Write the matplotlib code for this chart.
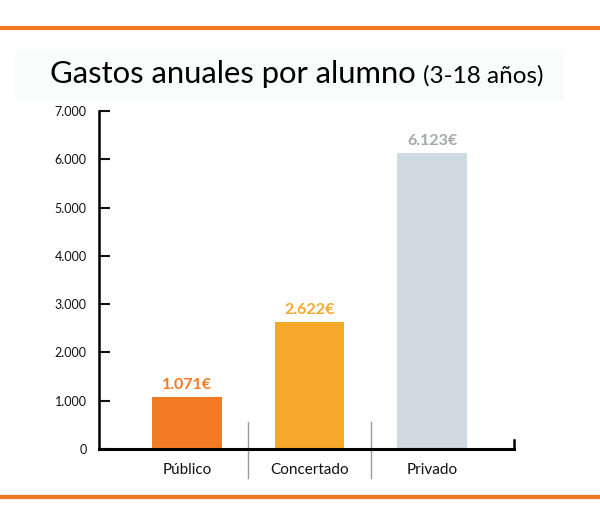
import matplotlib
matplotlib.use("Agg")
import matplotlib.pyplot as plt
from matplotlib.patches import Rectangle
from matplotlib.lines import Line2D

# data
categorias = ["Público", "Concertado", "Privado"]
gastos = [1071, 2622, 6123]
etiquetas = ["1.071€", "2.622€", "6.123€"]
yticks = [0, 1000, 2000, 3000, 4000, 5000, 6000, 7000]
ytick_labels = ["0", "1.000", "2.000", "3.000", "4.000", "5.000", "6.000", "7.000"]

bar_colors = ["#F47B26", "#F5A82A", "#CFDBE0"]
label_colors = ["#F47B26", "#F5A82A", "#A3A8AB"]
naranja = "#F07822"

plt.rcParams["font.family"] = ["Lato", "DejaVu Sans"]

fig = plt.figure(figsize=(6, 5.25), dpi=100)
ax = fig.add_axes([0.165, 0.1448, 0.6917, 0.6438])

x = list(range(len(categorias)))
ax.bar(x, gastos, width=0.571, color=bar_colors)

for xi, v, lab, c in zip(x, gastos, etiquetas, label_colors):
    ax.annotate(lab, (xi, v), xytext=(0, 4), textcoords="offset points",
                ha="center", va="bottom", fontsize=11.5, fontweight="bold", color=c)

ax.set_xlim(-0.718, 2.669)
ax.set_ylim(0, 7000)
ax.set_yticks(yticks)
ax.set_yticklabels(ytick_labels)
ax.set_xticks(x)
ax.set_xticklabels(categorias)

ax.tick_params(axis="y", direction="in", length=8, width=1.5, pad=9,
               labelsize=9, colors="#111111")
ax.tick_params(axis="x", length=0, pad=10, labelsize=11, colors="#111111")

for s in ["top", "right"]:
    ax.spines[s].set_visible(False)
ax.spines["left"].set_linewidth(1.8)
ax.spines["bottom"].set_linewidth(2.2)

# separadores entre categorias
trans = ax.get_xaxis_transform()
for xs in [0.5, 1.5]:
    ax.add_line(Line2D([xs, xs], [0.08, -0.0858], transform=trans,
                       color="#9A9A9A", linewidth=1, clip_on=False))
# marca al final del eje x
ax.add_line(Line2D([1, 1], [0, 0.028], transform=ax.transAxes,
                   color="black", linewidth=1.8, clip_on=False))

# lineas naranjas
fig.add_artist(Line2D([0, 1], [0.9476, 0.9476], color=naranja, linewidth=3,
                      transform=fig.transFigure))
fig.add_artist(Line2D([0, 1], [0.0524, 0.0524], color=naranja, linewidth=3,
                      transform=fig.transFigure))

# fondo del titulo
fig.add_artist(Rectangle((0.025, 0.81), 0.915, 0.095, transform=fig.transFigure,
                         facecolor="#FAFBFB", edgecolor="none", zorder=0))

# titulo en dos partes, la segunda pegada a la primera
t1 = fig.text(0.083, 0.842, "Gastos anuales por alumno", fontsize=22.3,
              ha="left", va="baseline", color="black")
fig.canvas.draw()
bb = t1.get_window_extent()
x2 = (bb.x1 + 7) / fig.bbox.width
fig.text(x2, 0.842, "(3-18 años)", fontsize=17.5,
         ha="left", va="baseline", color="black")

fig.savefig("out.png", dpi=100, facecolor="white")
